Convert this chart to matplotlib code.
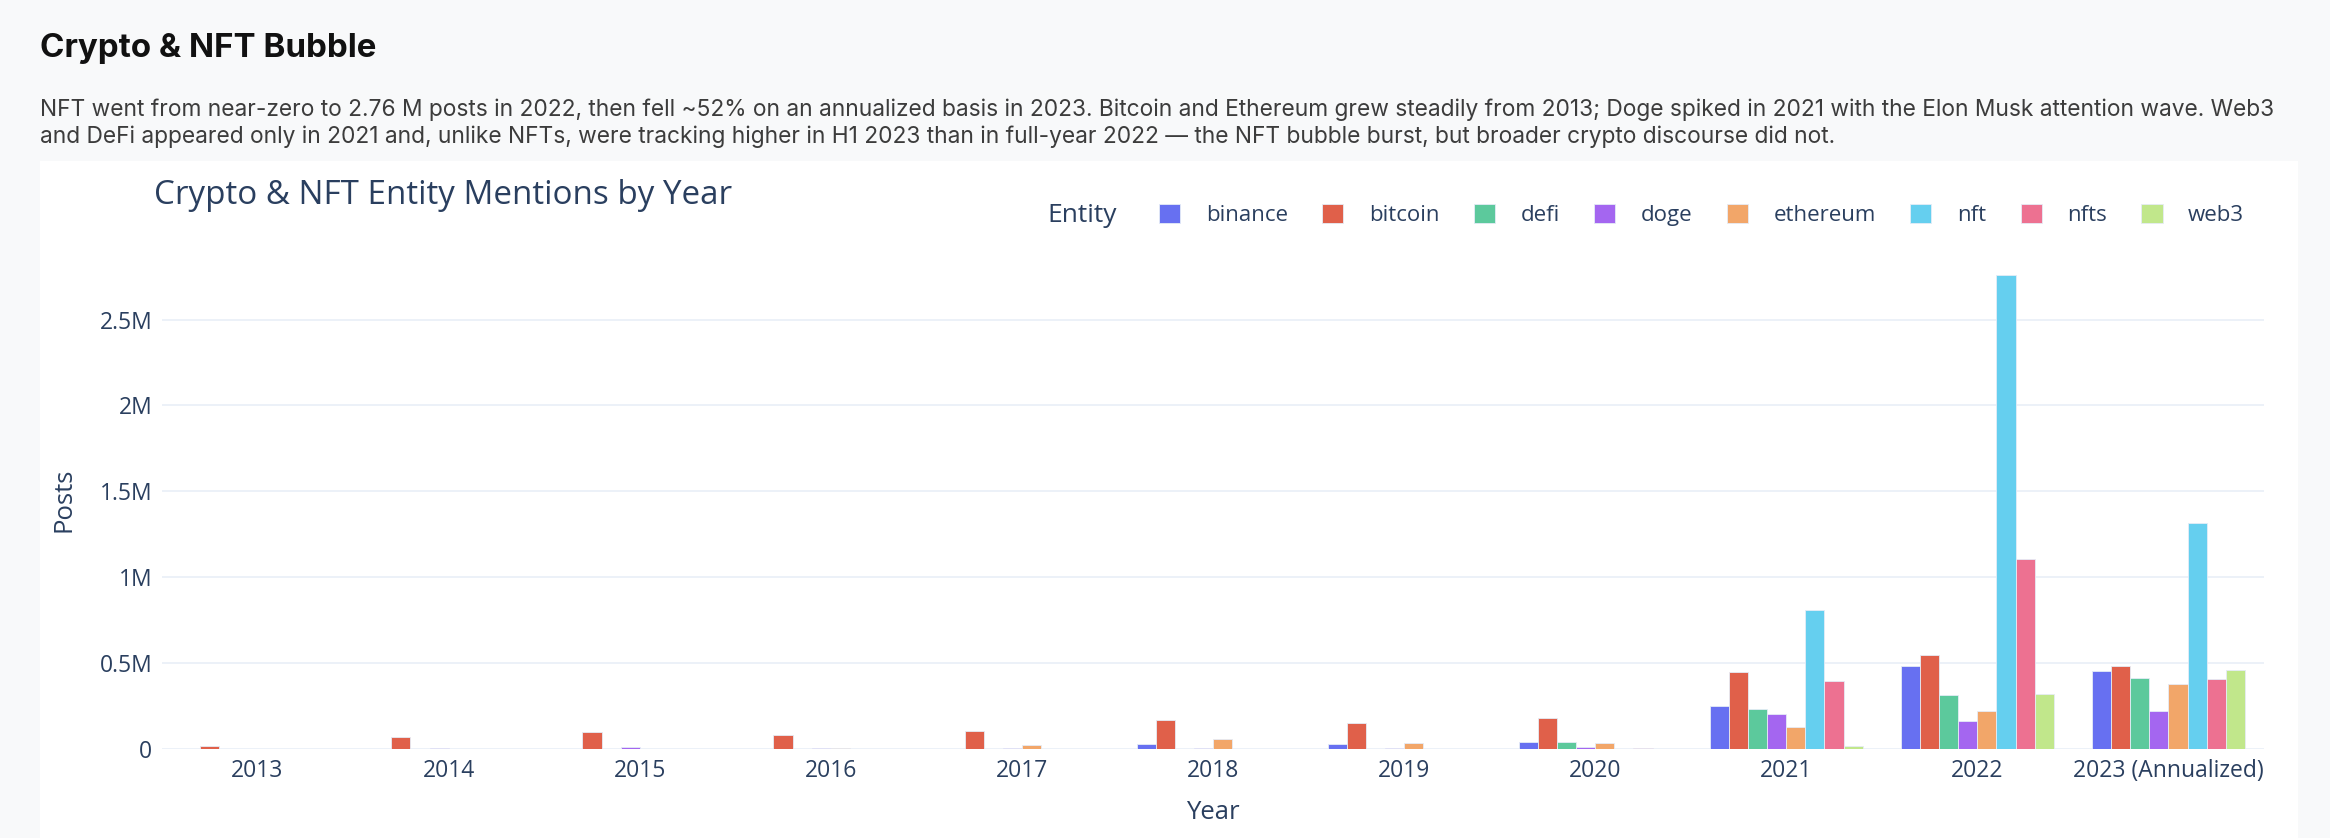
# Crypto & NFT entity mentions by year - grouped bar chart

import numpy as np
import matplotlib.pyplot as plt
from matplotlib.patches import Rectangle
from matplotlib.ticker import FuncFormatter

# Data (posts per year)
years = ['2013', '2014', '2015', '2016', '2017', '2018', '2019', '2020',
         '2021', '2022', '2023 (Annualized)']
entities = ['binance', 'bitcoin', 'defi', 'doge', 'ethereum', 'nft', 'nfts', 'web3']

binance = [0, 0, 0, 0, 0, 27000, 31000, 41000, 253000, 486000, 455000]
bitcoin = [15000, 70000, 99000, 82000, 103000, 169000, 151000, 178000, 451000, 545000, 484000]
defi = [0, 0, 0, 0, 0, 0, 2000, 42000, 230000, 313000, 412000]
doge = [2000, 8000, 10000, 4000, 4000, 6000, 8000, 14000, 202000, 163000, 220000]
ethereum = [0, 0, 0, 4000, 21000, 58000, 33000, 35000, 130000, 224000, 381000]
nft = [0, 0, 0, 0, 0, 0, 0, 0, 809000, 2760000, 1313000]
nfts = [0, 0, 0, 0, 0, 0, 0, 4000, 393000, 1105000, 409000]
web3 = [0, 0, 0, 0, 0, 0, 0, 0, 19000, 323000, 459000]

series = [binance, bitcoin, defi, doge, ethereum, nft, nfts, web3]
colors = ['#6770F1', '#E0604A', '#5CC99C', '#A466F0', '#F2A669',
          '#65CFEF', '#ED7191', '#C1E78B']

text_col = '#2a3f5f'
chart_font = 'Open Sans'

fig = plt.figure(figsize=(23.3, 8.38), dpi=100)
fig.patch.set_facecolor('#F8F9FA')

# white chart card
fig.patches.append(Rectangle((40 / 2330, 0), (2298 - 40) / 2330, 1 - 161 / 838,
                             transform=fig.transFigure, facecolor='white',
                             edgecolor='none', zorder=-10))

# page header
fig.text(40 / 2330, 1 - 49 / 838, 'Crypto & NFT Bubble', fontsize=23.8,
         fontweight='bold', family='Inter', color='#111111', va='center')
fig.text(40 / 2330, 1 - 110 / 838,
         'NFT went from near-zero to 2.76 M posts in 2022, then fell ~52% on an annualized '
         'basis in 2023. Bitcoin and Ethereum grew steadily from 2013; Doge spiked in 2021 '
         'with the Elon Musk attention wave. Web3',
         fontsize=16.4, family='Inter', color='#3c3c3c', va='center')
fig.text(40 / 2330, 1 - 137 / 838,
         'and DeFi appeared only in 2021 and, unlike NFTs, were tracking higher in H1 2023 '
         'than in full-year 2022 \u2014 the NFT bubble burst, but broader crypto discourse did not.',
         fontsize=16.4, family='Inter', color='#3c3c3c', va='center')

ax = fig.add_axes([162 / 2330, 1 - 749 / 838, (2264 - 162) / 2330, (749 - 250) / 838])
ax.set_facecolor('white')

x = np.arange(len(years))
width = 0.1
for i, (name, vals) in enumerate(zip(entities, series)):
    vals = np.array(vals, dtype=float)
    vals[vals == 0] = np.nan  # plotly draws nothing for empty entries
    ax.bar(x + (i - 3.5) * width, vals, width, color=colors[i], label=name,
           edgecolor='#E5ECF6', linewidth=0.6, zorder=2)

ax.set_xlim(-0.5, len(years) - 0.5)
ax.set_ylim(0, 2.905e6)
ax.set_yticks([0, 0.5e6, 1e6, 1.5e6, 2e6, 2.5e6])


def fmt(v, pos):
    if v == 0:
        return '0'
    return f'{v / 1e6:g}M'


ax.yaxis.set_major_formatter(FuncFormatter(fmt))
ax.set_xticks(x)
ax.set_xticklabels(years)
ax.grid(axis='y', color='#EBF0F8', linewidth=1.3, zorder=0)
ax.set_axisbelow(True)
for s in ax.spines.values():
    s.set_visible(False)
ax.tick_params(length=0, labelsize=16.5, labelcolor=text_col, pad=7)
for lab in ax.get_xticklabels() + ax.get_yticklabels():
    lab.set_family(chart_font)

ax.set_xlabel('Year', fontsize=18.5, color=text_col, family=chart_font)
ax.set_ylabel('Posts', fontsize=18.5, color=text_col, family=chart_font)
ax.xaxis.label.set_va('center')
ax.yaxis.label.set_va('center')
ax.xaxis.set_label_coords(0.5, -0.128)
ax.yaxis.set_label_coords(-0.0465, 0.5)

# plot title
fig.text(154 / 2330, 1 - 195 / 838, 'Crypto & NFT Entity Mentions by Year',
         fontsize=23.9, color=text_col, family=chart_font, va='center')

# legend
fig.text(1047 / 2330, 1 - 215 / 838, 'Entity', fontsize=19, color=text_col,
         family=chart_font, va='center')
leg = ax.legend(loc='center left', bbox_to_anchor=(1159 / 2330, 1 - 215 / 838),
                bbox_transform=fig.transFigure, ncol=8, frameon=False,
                borderpad=0, borderaxespad=0, handlelength=0.95, handleheight=0.95,
                handletextpad=1.15, columnspacing=1.55,
                prop={'family': chart_font, 'size': 16.0})
for t in leg.get_texts():
    t.set_color(text_col)

fig.savefig('out.png', dpi=100, facecolor=fig.get_facecolor())
